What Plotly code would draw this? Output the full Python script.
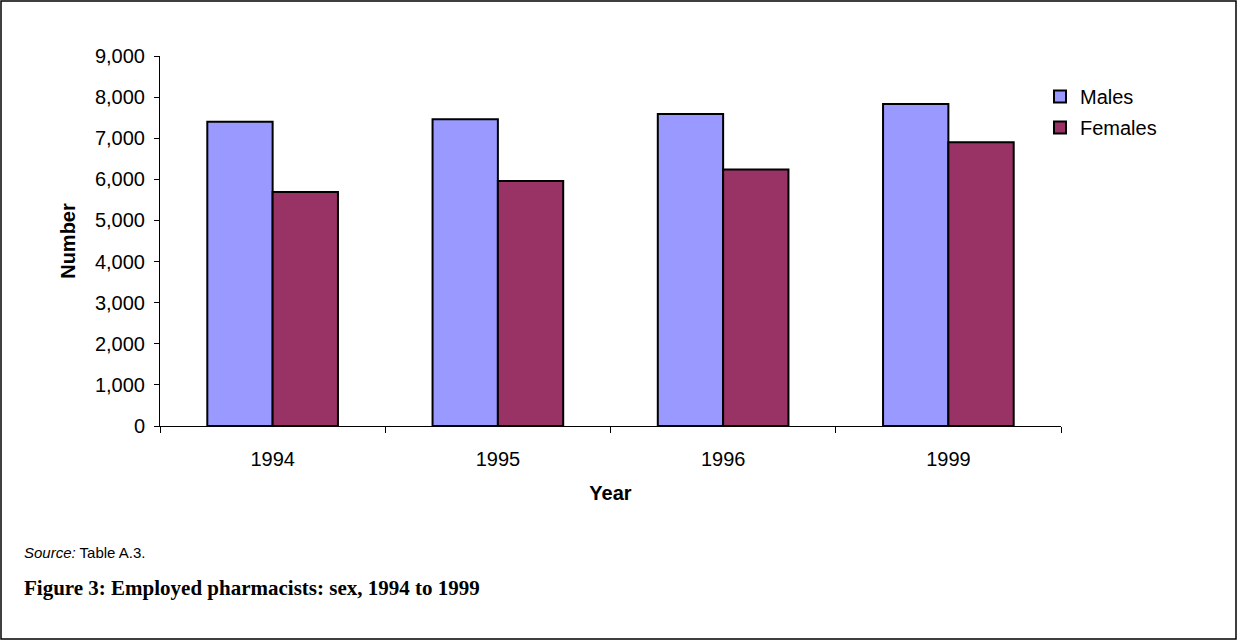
import plotly.graph_objects as go

years = ["1994", "1995", "1996", "1999"]
males = [7400, 7460, 7590, 7830]
females = [5690, 5960, 6240, 6900]
y_ticks = [0, 1000, 2000, 3000, 4000, 5000, 6000, 7000, 8000, 9000]

W, H = 1238, 641
L, R, T, B = 160, 1061, 56, 426

def px(x):
    return (x - L) / (R - L)

def py(y):
    return (B - y) / (B - T)

fig = go.Figure()
fig.add_trace(go.Bar(name="Males", x=years, y=males, marker=dict(color="#9999FF", line=dict(color="black", width=2)), legendgroup="m"))
fig.add_trace(go.Bar(name="Females", x=years, y=females, marker=dict(color="#993366", line=dict(color="black", width=2)), legendgroup="f"))

fig.update_layout(
    width=W, height=H,
    margin=dict(l=L, r=W - R, t=T, b=H - B, autoexpand=False),
    paper_bgcolor="white", plot_bgcolor="white",
    font=dict(family="Arial, Liberation Sans, sans-serif", size=20, color="black"),
    bargap=0.42, bargroupgap=0,
    showlegend=True,
    legend=dict(x=px(1040), y=py(77), xanchor="left", yanchor="top", tracegroupgap=2,
                font=dict(size=20), bgcolor="rgba(0,0,0,0)", itemwidth=30),
    xaxis=dict(showline=True, linecolor="black", linewidth=1, ticks="outside", ticklen=6,
               tickcolor="black", tickson="boundaries", ticklabelstandoff=15,
               tickfont=dict(size=20),
               title=dict(text="<b>Year</b>", font=dict(size=20), standoff=16),
               showgrid=False, automargin=False),
    yaxis=dict(range=[0, 9000], tickvals=y_ticks, tickformat=",d", showline=True, linecolor="black",
               linewidth=1, ticks="outside", ticklen=5, tickcolor="black", ticklabelstandoff=5,
               tickfont=dict(size=20),
               showgrid=False, zeroline=False, automargin=False,
               title=dict(text="<b>Number</b>", font=dict(size=20), standoff=13)),
)

fig.add_annotation(xref="paper", yref="paper", x=px(22), y=py(552), xanchor="left", yanchor="middle",
                   text="<i>Source:</i> Table A.3.", showarrow=False,
                   font=dict(family="Arial, Liberation Sans, sans-serif", size=15, color="black"))
fig.add_annotation(xref="paper", yref="paper", x=px(22), y=py(588), xanchor="left", yanchor="middle",
                   text="<b>Figure 3: Employed pharmacists: sex, 1994 to 1999</b>", showarrow=False,
                   font=dict(family="Palatino Linotype, Book Antiqua, Liberation Serif, serif", size=21, color="black"))

fig.add_shape(type="rect", xref="paper", yref="paper", x0=px(1), x1=px(1236), y0=py(639), y1=py(1),
              line=dict(color="black", width=1.5), fillcolor="rgba(0,0,0,0)", layer="below")

fig.write_html("out.html", config={"displayModeBar": False},
               post_script="document.body.style.margin='0';document.body.style.padding='0';")
